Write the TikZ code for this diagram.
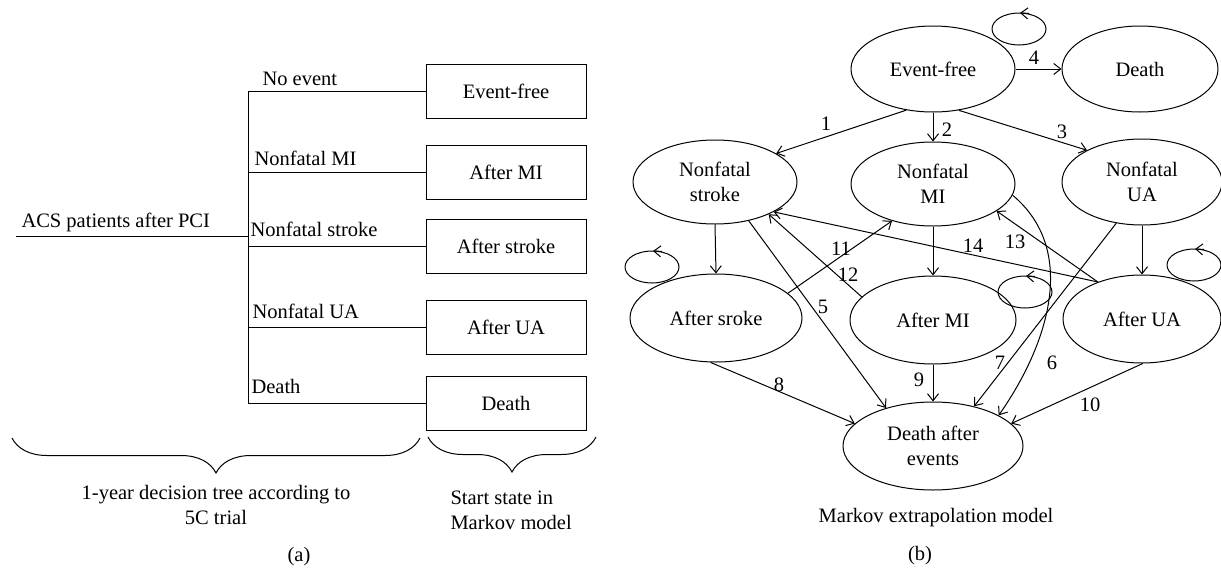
\documentclass[tikz,border=0pt]{standalone}
\usepackage{fontspec}
\setmainfont{Liberation Serif}
\usetikzlibrary{shapes.geometric, arrows.meta, decorations.pathreplacing, calc}

\tikzset{
  state/.style={ellipse, draw, inner sep=0pt, minimum width=164pt, minimum height=86pt, align=center},
  startbox/.style={rectangle, draw, inner sep=0pt, minimum width=160pt, minimum height=54pt},
  arr/.style={-{Straight Barb[length=7pt,width=11pt]}},
  lbl/.style={inner sep=0pt, anchor=base west},
  curly/.style={decorate, decoration={brace, mirror, amplitude=35pt}},
}

\begin{document}
\begin{tikzpicture}[x=1pt, y=-1pt, line width=1pt, every node/.style={font=\fontsize{20.5}{25}\selectfont}]
    \useasboundingbox (0,0) rectangle (1221,568);

    % (a) decision tree
    \path (16,236) coordinate (root);
    \path (248,236) coordinate (fork);
    \path (21,227) node (acs) [lbl] {ACS patients after PCI};
    \draw (root) -- (fork);

    % start states of the Markov model
    \path (506,91) node (B1) [startbox] {Event-free};
    \path (506,172) node (B2) [startbox] {After MI};
    \path (506,246) node (B3) [startbox] {After stroke};
    \path (506,327) node (B4) [startbox] {After UA};
    \path (506,403) node (B5) [startbox] {Death};

    \draw (fork |- B1.west) -- (fork |- B5.west);
    \foreach \b in {1,...,5}{
      \draw (fork |- B\b.west) -- (B\b.west);
    }

    % branch labels
    \path (262,85) node (T1) [lbl] {No event};
    \path (254,165) node (T2) [lbl] {Nonfatal MI};
    \path (250,236) node (T3) [lbl] {Nonfatal stroke};
    \path (252,318) node (T4) [lbl] {Nonfatal UA};
    \path (251,393) node (T5) [lbl] {Death};

    % braces and captions
    \draw [curly] (12,438) -- (420,438);
    \draw [curly] (428,437) -- (596,437);
    \path (216,505) node (capA) [align=center] {1-year decision tree according to\\5C trial};
    \path (450,510) node (capS) [anchor=west, align=left, inner sep=0pt] {Start state in\\Markov model};
    \path (299,557) node (subA) {(a)};

    % (b) Markov states
    \path (933,69) node (EF) [state] {Event-free};
    \path (1140,69) node (DE) [state, minimum width=156pt] {Death};
    \path (715,182) node (NS) [state, minimum height=84pt] {Nonfatal\\stroke};
    \path (933,184) node (NM) [state, minimum height=84pt] {Nonfatal\\MI};
    \path (1142,182) node (NU) [state, minimum width=160pt] {Nonfatal\\UA};
    \path (716,318) node (AS) [state, minimum width=172pt, minimum height=88pt] {After sroke};
    \path (933,320) node (AM) [state, minimum width=166pt, minimum height=88pt] {After MI};
    \path (1142,319) node (AU) [state, minimum width=158pt, minimum height=88pt] {After UA};
    \path (933,446) node (DA) [state, minimum width=180pt, minimum height=88pt] {Death after\\events};

    % self loops
    \foreach \cx/\cy in {1019/29, 652/267, 1025/292, 1194/265}{
      \draw (\cx,\cy) ellipse (27 and 16);
      \draw [arr] (\cx+10,\cy-15.6) -- (\cx+1,\cy-16);
    }

    % transitions
    \draw [arr] (EF.237) -- (NS.25);
    \draw [arr] (EF.south) -- (NM.north);
    \draw [arr] (EF.302) -- (NU.150);
    \draw [arr] (EF.east) -- (EF.east -| DE.west);
    \draw [arr] (NS.311) -- (DA.141);
    \draw [arr] (NM.352) to [out=-40, in=55] (DA.25);
    \draw [arr] (NU.238) -- (DA.44);
    \draw [arr] (AS.263) -- (DA.164);
    \draw [arr] (AM.south) -- (DA.north);
    \draw [arr] (AU.271) -- (DA.16);
    \draw [arr] (AS.19) -- (NM.222);
    \draw [arr] (AM.162) -- (NS.329);
    \draw [arr] (AU.140) -- (NM.337);
    \draw [arr] (AU.140) -- (NS.333);
    \draw [arr] (NS.south) -- (AS.north);
    \draw [arr] (NM.south) -- (AM.north);
    \draw [arr] (NU.south) -- (AU.north);

    % transition numbers
    \foreach \n/\x/\y in {1/826/124, 2/947/130, 3/1062/132, 4/1034/58, 5/823/307,
                          6/1052/363, 7/1000/363, 8/779/385, 9/919/380, 10/1090/405,
                          11/841/249, 12/848/275, 13/1015/242, 14/973/246}{
      \path (\x,\y) node (N\n) {\n};
    }

    \path (936,518) node (capB) {Markov extrapolation model};
    \path (920,556) node (subB) {(b)};
\end{tikzpicture}
\end{document}
